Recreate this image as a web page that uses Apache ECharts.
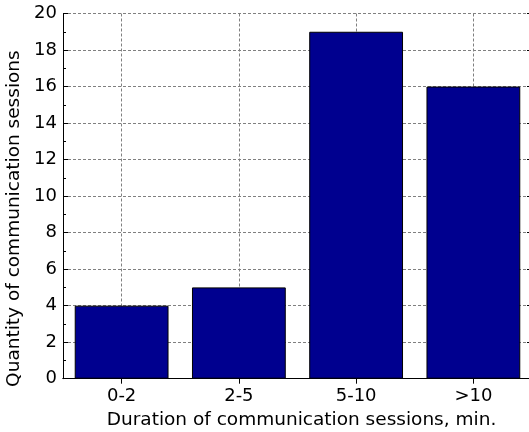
<!DOCTYPE html>
<html>
<head>
<meta charset="utf-8">
<title>Communication sessions by duration</title>
<script src="https://cdn.jsdelivr.net/npm/echarts@6/dist/echarts.min.js"></script>
<style>
  html, body { margin: 0; padding: 0; background: #fff; }
  #chart { width: 529px; height: 432px; }
</style>
</head>
<body>
<div id="chart"></div>
<script>
// Duration bins and how many sessions fell in each
const categories = ['0-2', '2-5', '5-10', '>10'];
const sessionCounts = [4, 5, 19, 16];
const yTicks = [0, 2, 4, 6, 8, 10, 12, 14, 16, 18, 20];

const FONT = 'DejaVu Sans';
const gridDash = { color: '#808080', width: 1, type: [3, 2] };
const frameLine = { show: true, lineStyle: { color: '#000', width: 1 } };

const chart = echarts.init(document.getElementById('chart'), null, { renderer: 'canvas' });

chart.setOption({
  animation: false,
  backgroundColor: '#fff',
  grid: { left: 63, right: -3, top: 13.5, bottom: 53.3, containLabel: false, outerBoundsMode: 'none' },
  xAxis: [
    {
      type: 'category',
      data: categories,
      position: 'bottom',
      axisLine: frameLine,
      axisTick: { show: true, inside: true, alignWithLabel: true, length: 5, lineStyle: { color: '#000' } },
      axisLabel: { color: '#000', fontFamily: FONT, fontSize: 18, margin: 9 },
      splitLine: { show: true, alignWithLabel: true, lineStyle: gridDash },
      name: 'Duration of communication sessions, min.',
      nameLocation: 'middle',
      nameGap: 31,
      nameTextStyle: { color: '#000', fontFamily: FONT, fontSize: 18.5, padding: [0, 0, 0, 8] }
    },
    {
      type: 'category',
      data: categories,
      position: 'top',
      axisLine: frameLine,
      axisTick: { show: true, inside: true, alignWithLabel: true, length: 5, lineStyle: { color: '#000' } },
      axisLabel: { show: false },
      splitLine: { show: false }
    }
  ],
  yAxis: [
    {
      type: 'value',
      min: yTicks[0],
      max: yTicks[yTicks.length - 1],
      interval: 2,
      position: 'left',
      axisLine: frameLine,
      axisTick: { show: true, inside: true, length: 5, lineStyle: { color: '#000' } },
      minorTick: { show: true, splitNumber: 2, length: 3, lineStyle: { color: '#000' } },
      axisLabel: { color: '#000', fontFamily: FONT, fontSize: 18, margin: 6 },
      splitLine: { show: true, lineStyle: gridDash },
      name: 'Quantity of communication sessions',
      nameLocation: 'middle',
      nameGap: 38,
      nameTextStyle: { color: '#000', fontFamily: FONT, fontSize: 18.5, padding: [0, 45, 0, 0] }
    },
    {
      type: 'value',
      min: yTicks[0],
      max: yTicks[yTicks.length - 1],
      interval: 2,
      position: 'right',
      axisLine: frameLine,
      axisTick: { show: true, inside: true, length: 5, lineStyle: { color: '#000' } },
      minorTick: { show: true, splitNumber: 2, length: 3, lineStyle: { color: '#000' } },
      axisLabel: { show: false },
      splitLine: { show: false }
    }
  ],
  series: [
    {
      type: 'bar',
      xAxisIndex: 0,
      yAxisIndex: 0,
      data: sessionCounts,
      barWidth: '80%',
      itemStyle: { color: '#00008F', borderColor: '#000', borderWidth: 1 }
    }
  ]
});
</script>
</body>
</html>
